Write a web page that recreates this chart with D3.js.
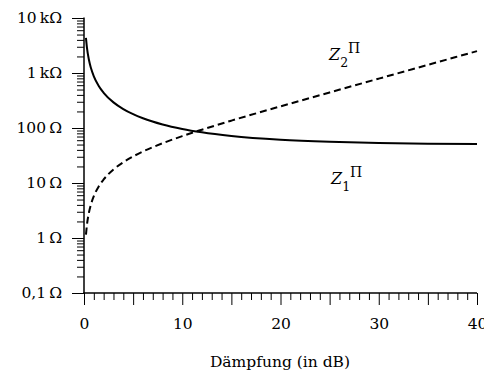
<!DOCTYPE html>
<html>
<head>
<meta charset="utf-8">
<script src="https://cdn.jsdelivr.net/npm/d3@7"></script>
<style>
  body { margin: 0; background: #fff; }
  text { font-family: "DejaVu Serif", serif; fill: #000; }
</style>
</head>
<body>
<script>
// Pi-attenuator impedances (Z0 = 50 Ω).
const dampfung = [0.2, 0.3, 0.5, 0.7, 1, 1.5, 2, 3, 4, 5, 6, 8, 10, 12, 15, 20, 25, 30, 35, 40];
const z1 = [4343, 2896, 1738, 1241, 869.5, 580.5, 436.2, 292.4, 221.0, 178.5, 150.5, 116.1, 96.2, 83.5, 71.6, 61.1, 56.0, 53.3, 51.8, 51.0];
const z2 = [1.15, 1.73, 2.88, 4.03, 5.77, 8.68, 11.6, 17.6, 23.8, 30.4, 37.4, 52.8, 71.2, 93.2, 136.1, 247.5, 443, 790, 1405, 2500];

const xTickValues = [0, 10, 20, 30, 40];
const yTickValues = [0.1, 1, 10, 100, 1000, 10000];
const yTickLabels = ["0,1\u2009\u03a9", "1\u2009\u03a9", "10\u2009\u03a9", "100\u2009\u03a9", "1\u2009k\u03a9", "10\u2009k\u03a9"];

const width = 484, height = 374;
const x0 = 84, x1 = 477, yTop = 18, yBottom = 293;

const svg = d3.select("body").append("svg")
  .attr("width", width)
  .attr("height", height);

const x = d3.scaleLinear().domain([0, 40]).range([x0, x1]);
const y = d3.scaleLog().domain([0.1, 10000]).range([yBottom, yTop]);

// Minor ticks: every dB on x, 2..9 per decade on y.
const xMinor = d3.range(0, 41, 1).filter(v => v % 5 !== 0);
const xMajor = d3.range(0, 41, 5);
const yMinor = [];
for (let e = -1; e < 4; e++) {
  for (let m = 2; m <= 9; m++) yMinor.push(m * Math.pow(10, e));
}

const xAxis = svg.append("g").attr("transform", "translate(0," + yBottom + ")");
xAxis.call(d3.axisBottom(x).tickValues(xMinor).tickSize(7).tickFormat(""));
xAxis.call(g => g.select(".domain").remove());
const xAxisMajor = svg.append("g").attr("transform", "translate(0," + yBottom + ")");
xAxisMajor.call(d3.axisBottom(x).tickValues(xMajor).tickSize(12).tickFormat(""));
xAxisMajor.call(g => g.select(".domain").remove());
const xAxisLabels = svg.append("g").attr("transform", "translate(0," + yBottom + ")");
xAxisLabels.call(d3.axisBottom(x).tickValues(xTickValues).tickSize(0).tickPadding(25).tickFormat(d3.format("d")));
xAxisLabels.call(g => g.select(".domain").remove());

const yAxis = svg.append("g").attr("transform", "translate(" + x0 + ",0)");
yAxis.call(d3.axisLeft(y).tickValues(yMinor).tickSize(7).tickFormat(""));
yAxis.call(g => g.select(".domain").remove());
const yAxisMajor = svg.append("g").attr("transform", "translate(" + x0 + ",0)");
yAxisMajor.call(d3.axisLeft(y).tickValues(yTickValues).tickSize(12).tickPadding(10)
  .tickFormat((d, i) => yTickLabels[i]));
yAxisMajor.call(g => g.select(".domain").remove());

svg.selectAll(".tick line").attr("stroke", "#000").attr("stroke-width", 1);
svg.selectAll(".tick text")
  .style("font-family", "DejaVu Serif, serif")
  .style("font-size", "15.5px")
  .attr("fill", "#000");

// Axis lines.
svg.append("line")
  .attr("x1", x0).attr("x2", x0).attr("y1", yTop - 0.5).attr("y2", yBottom + 0.75)
  .attr("stroke", "#000").attr("stroke-width", 1.5);
svg.append("line")
  .attr("x1", x0 - 0.75).attr("x2", x1).attr("y1", yBottom).attr("y2", yBottom)
  .attr("stroke", "#000").attr("stroke-width", 1.5);

const lineZ = d3.line()
  .x((d, i) => x(dampfung[i]))
  .y(d => y(d))
  .curve(d3.curveMonotoneX);

svg.append("path")
  .datum(z1)
  .attr("d", lineZ)
  .attr("fill", "none")
  .attr("stroke", "#000")
  .attr("stroke-width", 2);

svg.append("path")
  .datum(z2)
  .attr("d", lineZ)
  .attr("fill", "none")
  .attr("stroke", "#000")
  .attr("stroke-width", 2)
  .attr("stroke-dasharray", "7,4");

// Curve labels.
function curveLabel(px, py, sub) {
  const t = svg.append("text")
    .attr("x", px).attr("y", py)
    .style("font-size", "16px");
  t.append("tspan").text("Z").style("font-style", "italic");
  t.append("tspan").text(sub).attr("dy", 7).style("font-size", "12.5px");
  t.append("tspan").text("\u03a0").attr("dy", -14).style("font-size", "14px");
}
curveLabel(329, 60, "2");
curveLabel(331, 184, "1");

svg.append("text")
  .attr("x", 280)
  .attr("y", 367)
  .attr("text-anchor", "middle")
  .style("font-size", "15.5px")
  .text("Dämpfung (in dB)");
</script>
</body>
</html>
